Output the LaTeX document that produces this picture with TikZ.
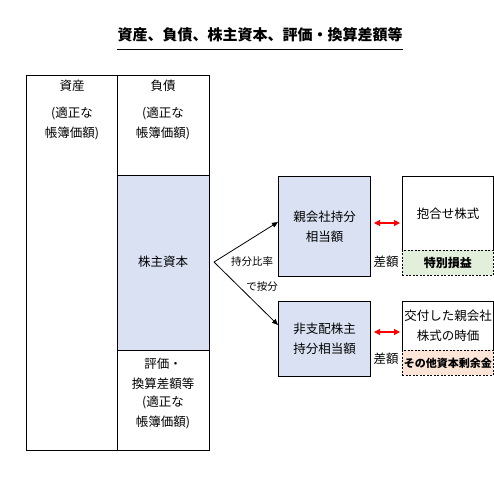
\documentclass[tikz,border=0pt]{standalone}
\usepackage{fontspec}
\setmainfont{Noto Sans CJK JP}
\usetikzlibrary{arrows.meta}
\definecolor{paleblue}{HTML}{D9E1F2}
\definecolor{palegreen}{HTML}{E2EFDA}
\definecolor{paleorange}{HTML}{FCE4D6}
\tikzset{
  cell/.style={draw=black, line width=1pt, anchor=north west, inner sep=0pt},
  dcell/.style={draw=black, line width=0.9pt, dash pattern=on 2pt off 1.5pt, anchor=north west, inner sep=0pt},
  txt/.style={font=\fontsize{12.5}{20}\selectfont, align=center, inner sep=0pt},
  small/.style={font=\fontsize{10.5}{14}\selectfont, inner sep=0pt},
  conn/.style={line width=0.8pt, -{Triangle[length=6pt,width=5pt]}},
  redarr/.style={red, line width=1.1pt, shorten <=3pt, shorten >=2pt, {Triangle[length=6pt,width=6pt]}-{Triangle[length=6pt,width=6pt]}}
}
\begin{document}
\begin{tikzpicture}[x=1pt,y=-1pt]
\useasboundingbox (0,0) rectangle (494,501);
% title
\node[inner sep=0pt, font=\fontsize{15}{16}\bfseries] (title) at (260,35) {資産、負債、株主資本、評価・換算差額等};
\draw[line width=1pt] (title.south west |- 0,49) -- (title.south east |- 0,49);
% balance sheet
\node[cell, minimum width=91pt, minimum height=375pt] (assets) at (26,75) {};
\node[cell, minimum width=92pt, minimum height=100pt] (liab) at (117,75) {};
\node[cell, fill=paleblue, minimum width=92pt, minimum height=175pt] (equity) at (117,175) {};
\node[cell, minimum width=92pt, minimum height=100pt] (valu) at (117,350) {};
\node[txt] (t1) at (72,86) {資産};
\node[txt] (t2) at (72,123) {(適正な\\帳簿価額)};
\node[txt] (t3) at (163,86) {負債};
\node[txt] (t4) at (163,123) {(適正な\\帳簿価額)};
\node[txt] (t5) at (163,262) {株主資本};
\node[txt] (t6) at (163,373.5) {評価・\\換算差額等};
\node[txt] (t7) at (163,412) {(適正な\\帳簿価額)};
% middle boxes
\node[cell, fill=paleblue, minimum width=92pt, minimum height=100pt] (parent) at (278,176) {};
\node[txt] (t8) at (parent.center) {親会社持分\\相当額};
\node[cell, fill=paleblue, minimum width=92pt, minimum height=75pt] (nci) at (278,301) {};
\node[txt] (t9) at (nci.center) {非支配株主\\持分相当額};
% right boxes
\node[cell, minimum width=91pt, minimum height=74pt] (merge) at (402,176) {};
\node[txt] (t10) at (merge.center) {抱合せ株式};
\node[dcell, fill=palegreen, minimum width=91pt, minimum height=25pt] (gain) at (402,250) {};
\node[txt, font=\fontsize{12}{14}\bfseries] (t11) at (gain.center) {特別損益};
\node[cell, minimum width=91pt, minimum height=49pt] (fair) at (402,301) {};
\node[txt] (t12) at (fair.center) {交付した親会社\\株式の時価};
\node[dcell, fill=paleorange, minimum width=91pt, minimum height=25pt] (surplus) at (402,350) {};
\node[txt, font=\fontsize{11}{14}\bfseries] (t13) at (surplus.center) {その他資本剰余金};
\node[txt] (d1) at (386,262) {差額};
\node[txt] (d2) at (386,359) {差額};
% connectors
\coordinate (split) at (214,262);
\draw[conn] (split) -- (parent.west |- 0,222);
\draw[conn] (split) -- (nci.west |- 0,325);
\node[small] (r1) at (252,262) {持分比率};
\node[small] (r2) at (262,287) {で按分};
\draw[redarr] (parent.east |- 0,223) -- (merge.west |- 0,223);
\draw[redarr] (nci.east |- 0,332) -- (fair.west |- 0,332);
\end{tikzpicture}
\end{document}
